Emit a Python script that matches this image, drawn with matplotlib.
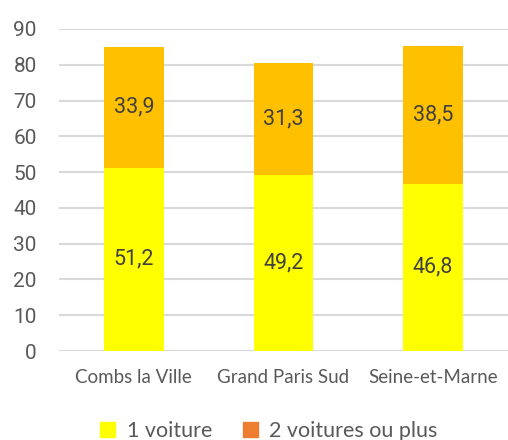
import matplotlib.pyplot as plt
import numpy as np

communes = ["Combs la Ville", "Grand Paris Sud", "Seine-et-Marne"]
une_voiture = [51.2, 49.2, 46.8]
deux_voitures = [33.9, 31.3, 38.5]
yticks = [0, 10, 20, 30, 40, 50, 60, 70, 80, 90]

jaune = "#FFFF00"
ambre = "#FFC000"
orange = "#ED7D31"
gris = "#595959"

fig = plt.figure(figsize=(5.08, 4.4), dpi=100)
ax = fig.add_axes([59 / 508, 89 / 440, 449 / 508, 322 / 440])

x = np.arange(len(communes))
ax.bar(x, une_voiture, width=0.4, color=jaune, zorder=2)
ax.bar(x, deux_voitures, width=0.4, bottom=une_voiture, color=ambre, zorder=2)

for i in range(len(communes)):
    ax.text(x[i], une_voiture[i] / 2, f"{une_voiture[i]:.1f}".replace(".", ","),
            ha="center", va="center", fontsize=15.5, color="#404040", family="Roboto")
    ax.text(x[i], une_voiture[i] + deux_voitures[i] / 2,
            f"{deux_voitures[i]:.1f}".replace(".", ","),
            ha="center", va="center", fontsize=15.5, color="#404040", family="Roboto")

ax.set_xlim(-0.5, 2.5)
ax.set_ylim(0, 90)
ax.set_yticks(yticks)
ax.set_yticklabels([str(t) for t in yticks], family="Roboto", fontsize=15, color=gris)
ax.set_xticks(x)
ax.set_xticklabels(communes, family="Lato", fontsize=13.5, color=gris)
ax.tick_params(axis="both", length=0)
ax.tick_params(axis="y", pad=16)
ax.tick_params(axis="x", pad=13)
ax.grid(axis="y", color="#D9D9D9", linewidth=1.5, zorder=0)
for s in ax.spines.values():
    s.set_visible(False)

# legend uses the Office default accent for the second series
h1 = plt.Rectangle((0, 0), 1, 1, color=jaune)
h2 = plt.Rectangle((0, 0), 1, 1, color=orange)
fig.legend([h1, h2], ["1 voiture", "2 voitures ou plus"], loc="center",
           bbox_to_anchor=(269 / 508, 1 - 431 / 440), ncol=2, frameon=False,
           prop={"family": "Lato", "size": 15.5}, handlelength=0.7, handleheight=0.7,
           handletextpad=0.55, columnspacing=1.4, labelcolor=gris,
           borderpad=0.2)

fig.savefig("out.png", dpi=100)
